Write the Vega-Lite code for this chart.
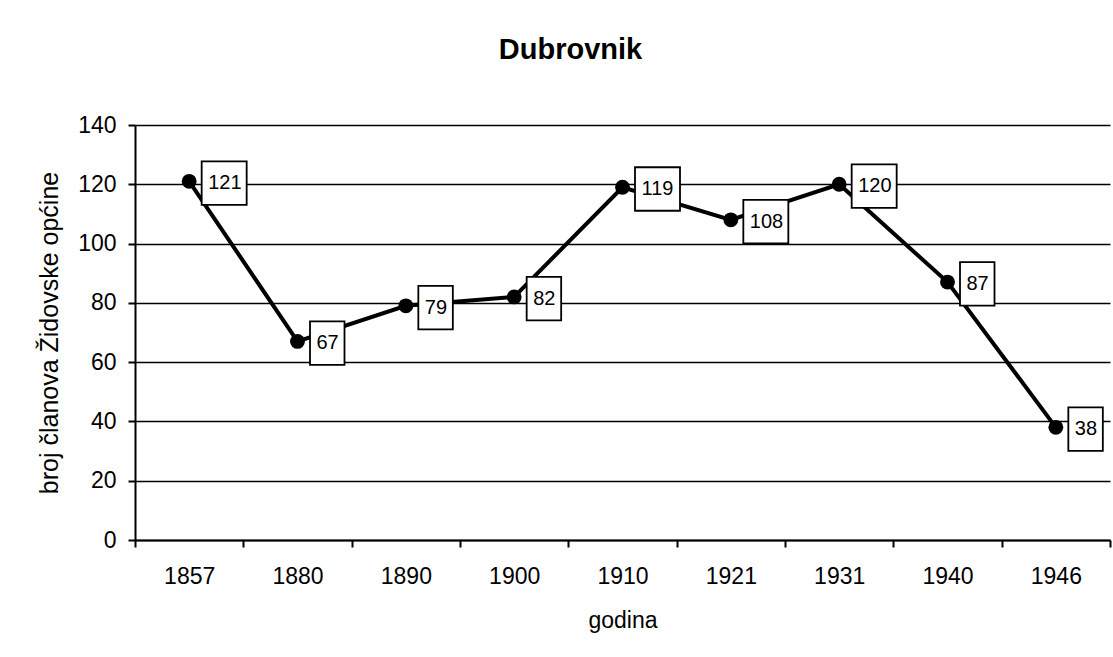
{
  "$schema": "https://vega.github.io/schema/vega-lite/v6.json",
  "width": 975,
  "height": 415,
  "autosize": {"type": "none"},
  "padding": {"left": 135, "top": 125, "right": 3, "bottom": 117},
  "background": "white",
  "title": {
    "text": "Dubrovnik",
    "font": "Liberation Sans",
    "fontSize": 29,
    "fontWeight": "bold",
    "color": "black",
    "anchor": "middle",
    "frame": "group",
    "baseline": "alphabetic",
    "dx": -52,
    "offset": 26
  },
  "config": {
    "font": "Liberation Sans",
    "view": {"stroke": null},
    "axis": {
      "labelFont": "Liberation Sans",
      "titleFont": "Liberation Sans",
      "labelColor": "black",
      "titleColor": "black",
      "titleFontWeight": "normal",
      "domainColor": "black",
      "tickColor": "black"
    }
  },
  "data": {
    "values": [
      {"year": "1857", "value": 121},
      {"year": "1880", "value": 67},
      {"year": "1890", "value": 79},
      {"year": "1900", "value": 82},
      {"year": "1910", "value": 119},
      {"year": "1921", "value": 108},
      {"year": "1931", "value": 120},
      {"year": "1940", "value": 87},
      {"year": "1946", "value": 38}
    ]
  },
  "encoding": {
    "x": {
      "field": "year",
      "type": "ordinal",
      "sort": null,
      "scale": {"type": "band", "paddingInner": 0, "paddingOuter": 0},
      "axis": {
        "title": "godina",
        "labelAngle": 0,
        "tickBand": "extent",
        "grid": false,
        "domainWidth": 2,
        "tickWidth": 2,
        "tickSize": 7,
        "labelFontSize": 23,
        "labelPadding": 18,
        "titleFontSize": 23,
        "titlePadding": 21
      }
    },
    "y": {
      "field": "value",
      "type": "quantitative",
      "scale": {"domain": [0, 140], "nice": false},
      "axis": {
        "title": "broj članova Židovske općine",
        "values": [0, 20, 40, 60, 80, 100, 120, 140],
        "grid": true,
        "gridColor": "black",
        "gridWidth": 1.5,
        "gridOpacity": 1,
        "domainWidth": 2,
        "tickWidth": 2,
        "tickSize": 7,
        "labelFontSize": 23,
        "labelPadding": 12,
        "titleFontSize": 25,
        "titlePadding": 15
      }
    }
  },
  "layer": [
    {"mark": {"type": "line", "color": "black", "strokeWidth": 4}},
    {"mark": {"type": "point", "shape": "circle", "filled": true, "color": "black", "opacity": 1, "size": 220}},
    {
      "transform": [{"filter": "datum.value >= 100"}],
      "mark": {"type": "point", "shape": "M1.25,-2.0H5.75V2.35H1.25Z", "size": 400, "filled": true, "fill": "white", "stroke": "black", "strokeWidth": 1.8, "opacity": 1}
    },
    {
      "transform": [{"filter": "datum.value < 100"}],
      "mark": {"type": "point", "shape": "M1.25,-2.0H4.7V2.35H1.25Z", "size": 400, "filled": true, "fill": "white", "stroke": "black", "strokeWidth": 1.8, "opacity": 1}
    },
    {
      "mark": {"type": "text", "align": "left", "baseline": "middle", "dx": 19, "dy": 2, "fontSize": 20, "color": "black"},
      "encoding": {"text": {"field": "value", "type": "quantitative"}}
    }
  ]
}
